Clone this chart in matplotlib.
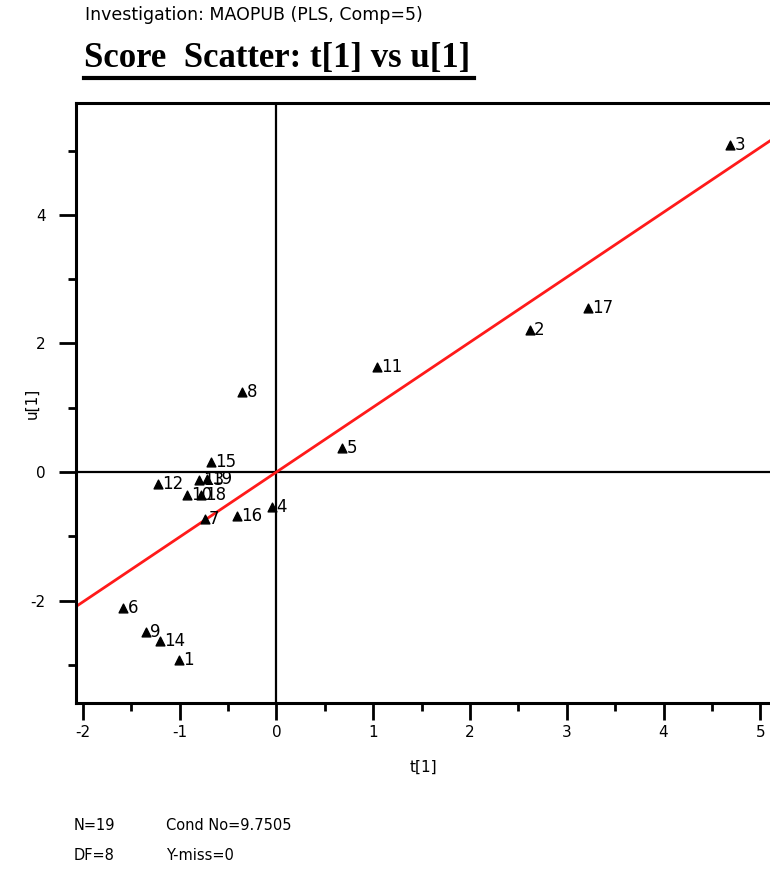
import numpy as np
import matplotlib.pyplot as plt
from matplotlib.lines import Line2D
from matplotlib.ticker import MultipleLocator

plt.rcParams['axes.unicode_minus'] = False

# score values
obs_ids = ['1', '2', '3', '4', '5', '6', '7', '8', '9', '10',
           '11', '12', '13', '14', '15', '16', '17', '18', '19']
t1 = [-1.01, 2.62, 4.69, -0.04, 0.68, -1.58, -0.74, -0.35, -1.35, -0.92,
      1.04, -1.22, -0.80, -1.20, -0.68, -0.41, 3.22, -0.78, -0.72]
u1 = [-2.92, 2.21, 5.09, -0.55, 0.37, -2.12, -0.73, 1.24, -2.48, -0.35,
      1.63, -0.19, -0.12, -2.62, 0.16, -0.68, 2.55, -0.35, -0.10]
fit_slope = 1.01

subtitle = 'Investigation: MAOPUB (PLS, Comp=5)'
title = 'Score  Scatter: t[1] vs u[1]'
stats_left = ['N=19', 'DF=8']
stats_right = ['Cond No=9.7505', 'Y-miss=0']

fig = plt.figure(figsize=(7.7, 8.74), dpi=100)
ax = fig.add_axes([0.0987, 0.1957, 0.9013, 0.6865])

xlim = (-2.07, 5.10)
ylim = (-3.59, 5.74)
ax.set_xlim(xlim)
ax.set_ylim(ylim)

# regression line through origin
xs = np.array(xlim)
ax.plot(xs, fit_slope * xs, color='#ff1a1a', lw=2, zorder=2)

ax.axhline(0, color='black', lw=1.6, zorder=1)
ax.axvline(0, color='black', lw=1.6, zorder=1)

ax.scatter(t1, u1, marker='^', s=40, color='black', zorder=3)
for lab, x, y in zip(obs_ids, t1, u1):
    ax.annotate(lab, (x, y), xytext=(3, 0), textcoords='offset points',
                ha='left', va='center', fontsize=12, family='DejaVu Sans',
                color='black', zorder=4)

for side in ['left', 'bottom', 'top']:
    ax.spines[side].set_linewidth(2.2)
ax.spines['right'].set_visible(False)

ax.xaxis.set_major_locator(MultipleLocator(1))
ax.xaxis.set_minor_locator(MultipleLocator(0.5))
ax.yaxis.set_major_locator(MultipleLocator(2))
ax.yaxis.set_minor_locator(MultipleLocator(1))
ax.tick_params(which='major', direction='out', length=12, width=2, labelsize=11, pad=4)
ax.tick_params(which='minor', direction='out', length=6, width=2)
ax.tick_params(axis='y', which='both', pad=10)

ax.set_xlabel('t[1]', fontsize=11, labelpad=14)
ax.set_ylabel('u[1]', fontsize=11)
ax.yaxis.set_label_coords(-0.052, 0.5)

fig.text(0.111, 0.983, subtitle, fontsize=12.5, va='center', ha='left', family='DejaVu Sans')
fig.text(0.109, 0.933, title, fontsize=25, fontweight='bold', family='Liberation Serif',
         va='center', ha='left')
fig.add_artist(Line2D([0.109, 0.615], [0.911, 0.911], color='black', lw=3,
                      transform=fig.transFigure))

fig.text(0.095, 0.056, stats_left[0], fontsize=10.5, va='center')
fig.text(0.215, 0.056, stats_right[0], fontsize=10.5, va='center')
fig.text(0.095, 0.021, stats_left[1], fontsize=10.5, va='center')
fig.text(0.215, 0.021, stats_right[1], fontsize=10.5, va='center')

plt.savefig('out.png', dpi=100)
